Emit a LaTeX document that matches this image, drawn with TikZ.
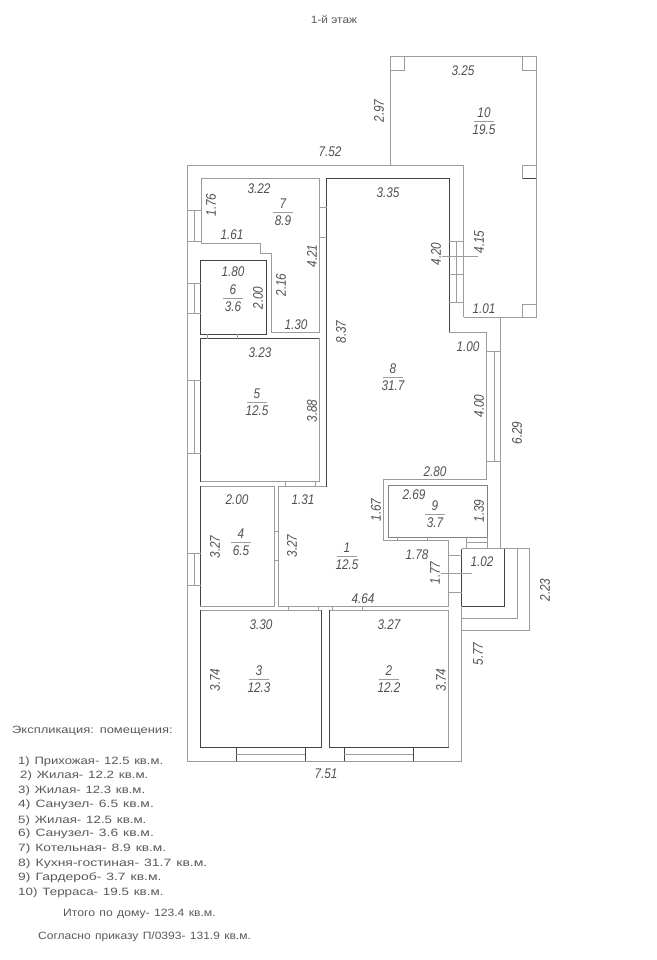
\documentclass[tikz,border=0pt]{standalone}
\usepackage{fontspec}
\usepackage{xcolor}
\setmainfont{Liberation Sans}
\newfontfamily\dimfont[FakeStretch=0.84,Ligatures=NoCommon]{Liberation Sans}
\newfontfamily\notefont[FakeStretch=1.22,WordSpace=1.3]{Liberation Sans}
\newfontfamily\headfont[FakeStretch=1.12]{Liberation Sans}

\begin{document}
\begin{tikzpicture}[x=1pt,y=-1pt,
  wallgray/.style={draw=wallg,line width=0.9pt},
  walldark/.style={draw=walld,line width=0.9pt},
  winline/.style={draw=wallg,line width=0.7pt},
  dimlab/.style={inner sep=0pt,text=inkc,font=\dimfont\itshape\fontsize{14}{14}\selectfont},
  notelab/.style={inner sep=0pt,anchor=west,text=notec,font=\notefont\fontsize{10.6}{11}\selectfont}]
\definecolor{wallg}{HTML}{9C9C9C}
\definecolor{walld}{HTML}{444444}
\definecolor{inkc}{HTML}{505050}
\definecolor{notec}{HTML}{585858}
\useasboundingbox (0,0) rectangle (656,960);
\node [notelab,anchor=center,font=\headfont\fontsize{10.6}{11}\selectfont] (title) at (334,20) {1-й этаж};
% outer walls and terrace
\draw [wallgray] (463.7,317.3) -- (463.7,165.7) -- (187.7,165.7) -- (187.7,761) -- (461.7,761) -- (461.7,548.7);
\draw [wallgray] (390,165.7) -- (390,56) -- (536,56) -- (536,317.3) -- (463.7,317.3);
\draw [wallgray] (500.7,317.3) -- (500.7,548.7);
\draw [wallgray] (461.7,548.7) -- (529,548.7) -- (529,630.3) -- (461.7,630.3);
\draw [wallgray] (517.3,548.7) -- (517.3,618.3) -- (461.7,618.3);
\draw [walldark] (504.3,548.7) -- (504.3,606) -- (461.7,606);
\draw [walldark] (461.7,548.7) -- (461.7,606);
% rooms
\draw [wallgray] (201,243.3) -- (201,178.3) -- (319,178.3) -- (319,332.3) -- (271.3,332.3) -- (271.3,253.7) -- (260.3,253.7) -- (260.3,243.3) -- cycle;
\draw [walldark] (200.7,260.7) rectangle (266.7,334.3);
\draw [wallgray] (200.7,338.7) rectangle (319,481.7);
\draw [walldark] (200.7,481.7) -- (200.7,338.7) -- (319,338.7);
\draw [wallgray] (200.7,486.3) rectangle (274,606);
\draw [walldark] (200.7,486.3) -- (200.7,606);
\draw [wallgray] (200.7,610) rectangle (321.7,747.7);
\draw [walldark] (200.7,610) -- (200.7,747.7) -- (321.7,747.7) -- (321.7,610);
\draw [wallgray] (329,610) rectangle (448.7,747.7);
\draw [walldark] (329,610) -- (329,747.7) -- (448.7,747.7);
\draw [wallgray] (449.3,332.3) -- (486.3,332.3) -- (486.3,479.3) -- (383.7,479.3) -- (383.7,540.7) -- (448.7,540.7) -- (448.7,606) -- (278.3,606) -- (278.3,486.7) -- (326.7,486.7);
\draw [walldark] (326.7,486.7) -- (326.7,178.3) -- (449.3,178.3) -- (449.3,332.3);
\draw [draw=wallg!70!walld,line width=1pt] (388,485.3) rectangle (487,537);
% terrace columns
\foreach \xa/\ya/\xb/\yb in {390/56/404/70,522.7/56/536/70,522.7/165.7/536/178.3,522.7/304.3/536/317.3}
  {\draw [wallgray] (\xa,\ya) rectangle (\xb,\yb);}
\draw [walldark] (522.7,178.3) -- (536,178.3);
% windows in the long walls
\foreach \ya/\yb in {210.3/241.7,283.3/313.3,380/453.3,553.3/585.7}
  {\draw [winline] (187.7,\ya) -- (201,\ya) (187.7,\yb) -- (201,\yb) (194.3,\ya) -- (194.3,\yb);}
\foreach \xa/\xb in {236/305.3,344.3/413.3}
  {\draw [walldark] (\xa,747.7) -- (\xa,761) (\xb,747.7) -- (\xb,761);
   \draw [winline] (\xa,754) -- (\xb,754);}
\draw [winline] (486.3,351.3) -- (500.7,351.3) (486.3,461.3) -- (500.7,461.3) (494,351.3) -- (494,461.3);
\draw [winline] (449.3,241.7) -- (463.7,241.7) (449.3,302.3) -- (463.7,302.3) (456.7,241.7) -- (456.7,302.3) (449.3,274.3) -- (463.7,274.3);
% doors
\foreach \xa/\xb/\ya/\yb in {207.3/237.7/334.3/338.7,285.7/315.7/481.7/486.7,288.3/318.3/606/610,332.7/362.3/606/610,397.3/427/537/540.7}
  {\draw [winline] (\xa,\ya) -- (\xa,\yb) (\xb,\ya) -- (\xb,\yb);}
\foreach \ya/\yb/\xa/\xb in {207.7/237.3/319/326.7,531/560.7/274/278.3,555.7/592.7/448.7/461.7}
  {\draw [winline] (\xa,\ya) -- (\xb,\ya) (\xa,\yb) -- (\xb,\yb);}
\draw [winline] (466.3,537) -- (466.3,548.7) (487,537) -- (487,548.7) (466.3,542.7) -- (487,542.7);
\draw [winline] (442,256.7) -- (477.7,256.7);
\draw [winline] (440.7,573.3) -- (471.7,573.3);
% room numbers with areas
\foreach \num/\area/\xx/\yy in {10/19.5/484/121,7/8.9/283/212,6/3.6/233/298,8/31.7/393/377,5/12.5/257/402,9/3.7/435/514,4/6.5/241/542,1/12.5/347/556,3/12.3/259/679,2/12.2/389/679}
  {\node [dimlab] (num\num) at (\xx,\yy-8.5) {\num};
   \node [dimlab] (area\num) at (\xx,\yy+8.5) {\area};
   \draw [winline] (\xx-10,\yy) -- (\xx+10,\yy);}
% level dimensions
\foreach \txt/\xx/\yy [count=\i] in {3.25/463/71,7.52/330/152,3.22/259/189,3.35/388/193,1.61/232/235,1.80/233/272,1.30/296/325,1.01/484/309,1.00/468/347,3.23/260/353,2.80/435/472,2.00/237/500,1.31/303/500,2.69/414/495,1.78/417/555,1.02/482/562,4.64/363/599,3.30/261/625,3.27/389/625,7.51/326/774}
  {\node [dimlab] (flat\i) at (\xx,\yy) {\txt};}
\foreach \txt/\xx/\yy [count=\i] in {2.97/379/111,1.76/211/205,4.21/312/256,4.20/436/254,4.15/479/242,2.00/258/298,2.16/281/285,8.37/341/332,3.88/312/411,4.00/479/406,6.29/517/433,1.67/376/510,1.39/479/511,3.27/215/547,3.27/292/546,1.77/435/573,2.23/545/590,3.74/215/680,3.74/441/680,5.77/478/654}
  {\node [dimlab,rotate=90] (side\i) at (\xx,\yy) {\txt};}
% explication
\node [notelab] (head) at (12,731) {Экспликация: помещения:};
\foreach \txt/\xx/\yy/\sx [count=\i] in {1) Прихожая- 12.5 кв.м./18/761.7/1.01,2) Жилая- 12.2 кв.м./20/776/1.03,3) Жилая- 12.3 кв.м./18/791/1.02,4) Санузел- 6.5 кв.м./18/805/1.07,5) Жилая- 12.5 кв.м./18/821/1.03,6) Санузел- 3.6 кв.м./18/834/1.07,7) Котельная- 8.9 кв.м./18/849/1.065,8) Кухня-гостиная- 31.7 кв.м./18/864/1.08,9) Гардероб- 3.7 кв.м./18/878/1.075,10) Терраса- 19.5 кв.м./18/893/1.035}
  {\node [notelab,xscale=\sx] (item\i) at (\xx,\yy) {\txt};}
\node [notelab,xscale=0.94] (total) at (63,914) {Итого по дому- 123.4 кв.м.};
\node [notelab,xscale=0.93] (order) at (38,937) {Согласно приказу П/0393- 131.9 кв.м.};
\end{tikzpicture}
\end{document}
